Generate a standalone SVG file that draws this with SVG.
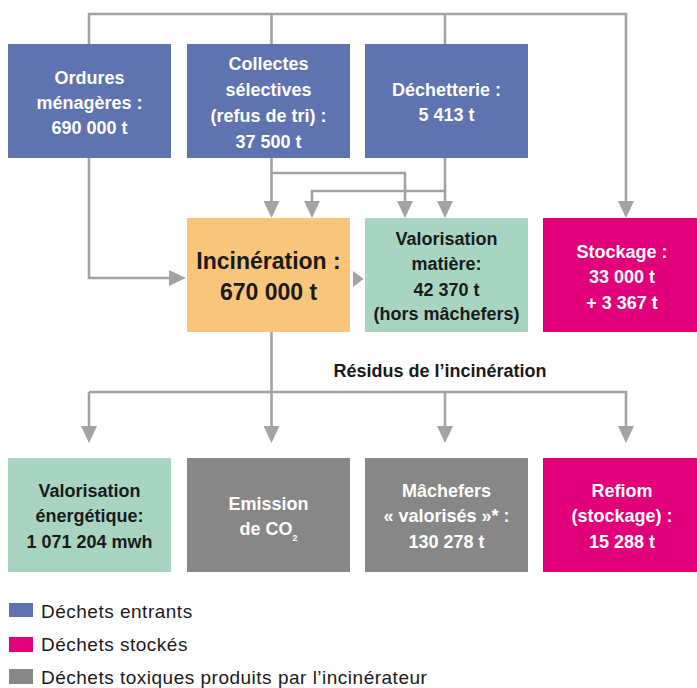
<svg xmlns="http://www.w3.org/2000/svg" width="697" height="688" viewBox="0 0 697 688">
<style>
.t{font-family:"Liberation Sans",Arial,sans-serif;font-weight:bold;font-size:18px;text-anchor:middle}
.w{fill:#ffffff}.d{fill:#1a1a1a}
.big{font-size:23px}
.leg{font-family:"Liberation Sans",Arial,sans-serif;font-size:19px;letter-spacing:0.5px;fill:#1a1a1a}
.c{fill:none;stroke:#a3a3a3;stroke-width:2.6}
.a{marker-end:url(#ah)}
.blue{fill:#5e73b0}.org{fill:#f9c57a}.grn{fill:#a8d5c2}.pnk{fill:#e2007a}.gry{fill:#878787}
</style>
<defs>
<marker id="ah" markerUnits="userSpaceOnUse" markerWidth="17" markerHeight="16" refX="0" refY="8" orient="auto">
<path d="M0,0 L17,8 L0,16 z" fill="#a3a3a3"/>
</marker>
</defs>
<g id="connectors">
<path class="c" d="M89,44 V14 H626 V201" marker-end="url(#ah)"/>
<path class="c" d="M271.5,14 V44"/>
<path class="c" d="M445,14 V44"/>
<path class="c a" d="M89,158 V278 H169"/>
<path class="c a" d="M271.5,158 V201"/>
<path class="c a" d="M271.5,173 H405 V201"/>
<path class="c a" d="M445,158 V201"/>
<path class="c a" d="M445,191 H312 V201"/>
<polygon points="353,271 363.5,279 353,287" fill="#a3a3a3"/>
<path class="c" d="M271.5,332 V392"/>
<path class="c a" d="M89,392 H626 V426"/>
<path class="c a" d="M89,392 V426"/>
<path class="c a" d="M271.5,392 V426"/>
<path class="c a" d="M445,392 V426"/>
<text class="t d" x="440" y="377">Résidus de l’incinération</text>
</g>
<g id="ordures">
<rect class="blue" x="8" y="44" width="163" height="114"/>
<text class="t w" x="89.5" y="84">Ordures</text>
<text class="t w" x="89.5" y="109">ménagères :</text>
<text class="t w" x="89.5" y="134">690 000 t</text>
</g>
<g id="collectes">
<rect class="blue" x="187" y="44" width="163" height="114"/>
<text class="t w" x="268.5" y="70">Collectes</text>
<text class="t w" x="268.5" y="96">sélectives</text>
<text class="t w" x="268.5" y="122">(refus de tri) :</text>
<text class="t w" x="268.5" y="148">37 500 t</text>
</g>
<g id="dechetterie">
<rect class="blue" x="365" y="44" width="163" height="114"/>
<text class="t w" x="446.5" y="96">Déchetterie :</text>
<text class="t w" x="446.5" y="121">5 413 t</text>
</g>
<g id="incineration">
<rect class="org" x="187" y="218" width="163" height="114"/>
<text class="t d big" x="268.5" y="269">Incinération :</text>
<text class="t d big" x="268.5" y="300">670 000 t</text>
</g>
<g id="valorisation-matiere">
<rect class="grn" x="365" y="218" width="163" height="114"/>
<text class="t d" x="446.5" y="245">Valorisation</text>
<text class="t d" x="446.5" y="270">matière:</text>
<text class="t d" x="446.5" y="296">42 370 t</text>
<text class="t d" x="446.5" y="320">(hors mâchefers)</text>
</g>
<g id="stockage">
<rect class="pnk" x="543" y="218" width="154" height="114"/>
<text class="t w" x="622" y="258">Stockage :</text>
<text class="t w" x="622" y="283">33 000 t</text>
<text class="t w" x="622" y="309">+ 3 367 t</text>
</g>
<g id="valorisation-energetique">
<rect class="grn" x="8" y="458" width="163" height="114"/>
<text class="t d" x="89.5" y="497">Valorisation</text>
<text class="t d" x="89.5" y="522">énergétique:</text>
<text class="t d" x="89.5" y="548">1 071 204 mwh</text>
</g>
<g id="emission">
<rect class="gry" x="187" y="458" width="163" height="114"/>
<text class="t w" x="268.5" y="510">Emission</text>
<text class="t w" x="268.5" y="535">de CO<tspan dy="6" style="font-size:9px">2</tspan></text>
</g>
<g id="machefers">
<rect class="gry" x="365" y="458" width="163" height="114"/>
<text class="t w" x="446.5" y="497">Mâchefers</text>
<text class="t w" x="446.5" y="522">« valorisés »* :</text>
<text class="t w" x="446.5" y="548">130 278 t</text>
</g>
<g id="refiom">
<rect class="pnk" x="543" y="458" width="154" height="114"/>
<text class="t w" x="622" y="497">Refiom</text>
<text class="t w" x="622" y="522">(stockage) :</text>
<text class="t w" x="622" y="548">15 288 t</text>
</g>
<g id="legend">
<rect class="blue" x="9" y="603" width="24" height="14"/>
<text class="leg" x="41" y="618">Déchets entrants</text>
<rect class="pnk" x="9" y="637" width="24" height="15"/>
<text class="leg" x="41" y="651">Déchets stockés</text>
<rect class="gry" x="9" y="669" width="24" height="15"/>
<text class="leg" x="41" y="684">Déchets toxiques produits par l’incinérateur</text>
</g>
</svg>
